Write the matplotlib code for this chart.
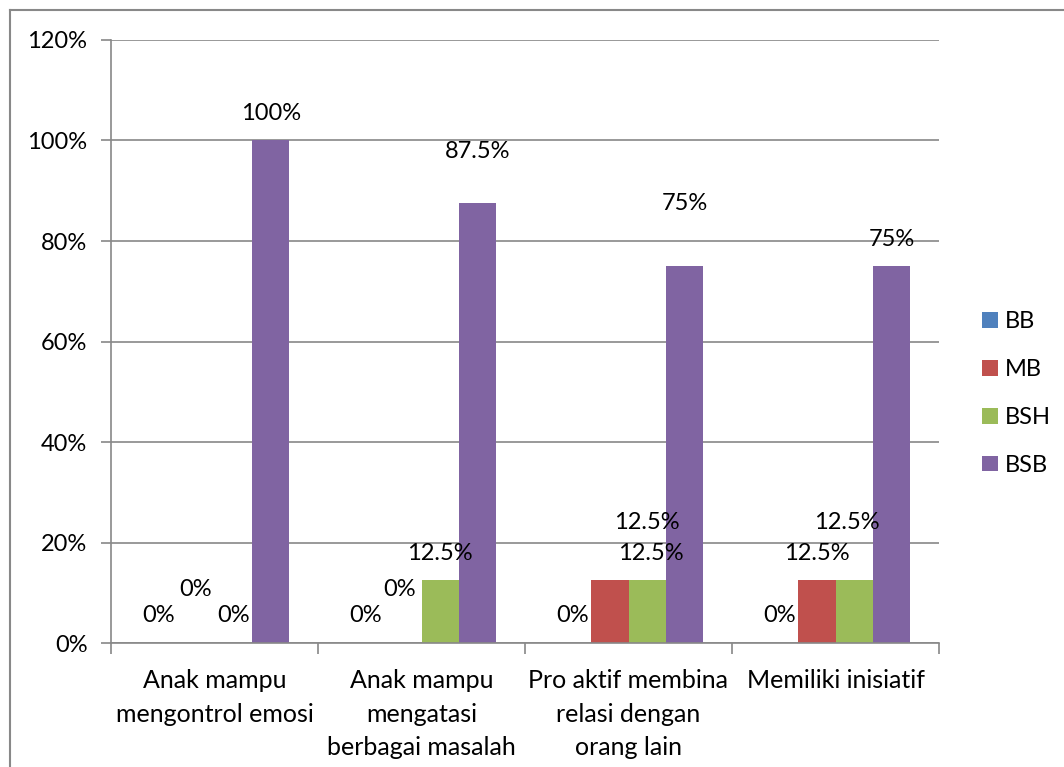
import numpy as np
import matplotlib
matplotlib.use("Agg")
import matplotlib.pyplot as plt
from matplotlib.lines import Line2D

categories = [
    "Anak mampu\nmengontrol emosi",
    "Anak mampu\nmengatasi\nberbagai masalah",
    "Pro aktif membina\nrelasi dengan\norang lain",
    "Memiliki inisiatif",
]
series = ["BB", "MB", "BSH", "BSB"]
bb = [0, 0, 0, 0]
mb = [0, 0, 12.5, 12.5]
bsh = [0, 12.5, 12.5, 12.5]
bsb = [100, 87.5, 75, 75]
yticks = [0, 20, 40, 60, 80, 100, 120]

colors = ["#4F81BD", "#C0504D", "#9BBB59", "#8064A2"]
grid_col = "#888888"

# hand-placed data labels: (category, series) -> extra shift in pixels
label_shift = {
    (0, 1): (0, 26),
    (1, 1): (-3, 27),
    (1, 3): (0, 25),
    (2, 1): (37, 31),
    (2, 2): (4, 0),
    (2, 3): (0, 36),
    (3, 2): (-7, 31),
}

plt.rcParams["font.family"] = ["Lato", "DejaVu Sans"]
FS = 17
FS_CAT = 18

fig = plt.figure(figsize=(10.64, 7.67), dpi=100)
ax = fig.add_axes([111 / 1064, 1 - 643 / 767, (939 - 111) / 1064, (643 - 40) / 767])

values = [bb, mb, bsh, bsb]
n_cat = len(categories)
width = 0.181
x = np.arange(n_cat)
for s, (name, vals, c) in enumerate(zip(series, values, colors)):
    pos = x + (s - 1.5) * width
    ax.bar(pos, vals, width, color=c, label=name, zorder=2, linewidth=0)
    for i, v in enumerate(vals):
        dx, dy = label_shift.get((i, s), (0, 0))
        ax.annotate(f"{v:g}%", (pos[i], v), xytext=(dx, 27 + dy),
                    textcoords="offset pixels", ha="center", va="center",
                    fontsize=FS, color="black", zorder=4)

ax.set_xlim(-0.5, n_cat - 0.5)
ax.set_ylim(0, 120)
ax.set_yticks(yticks)
ax.set_yticklabels([f"{t}%" for t in yticks])
ax.set_xticks(np.arange(n_cat + 1) - 0.5)
ax.set_xticklabels([])
ax.set_xticks(x, minor=True)
ax.set_xticklabels(categories, minor=True, fontsize=FS_CAT, linespacing=1.55)
ax.tick_params(axis="x", which="minor", length=0, pad=19)
ax.tick_params(axis="x", which="major", length=8, color=grid_col, width=1.2)
ax.tick_params(axis="y", length=7, color=grid_col, width=1.2, pad=10,
               labelsize=FS)
ax.yaxis.grid(True, color=grid_col, linewidth=1.2, zorder=1)
ax.set_axisbelow(True)
for side in ("top", "right"):
    ax.spines[side].set_visible(False)
for side in ("left", "bottom"):
    ax.spines[side].set_color(grid_col)
    ax.spines[side].set_linewidth(1.2)

fig.legend(loc="center left", bbox_to_anchor=(0.912, 0.487), frameon=False,
           fontsize=FS, handlelength=0.65, handleheight=0.65,
           handletextpad=0.3, labelspacing=1.14, borderpad=0)

# outer chart frame
fig.add_artist(Line2D([10 / 1064, 10 / 1064], [0, 1 - 10 / 767],
                      transform=fig.transFigure, color=grid_col, lw=1.5))
fig.add_artist(Line2D([10 / 1064, 1], [1 - 10 / 767, 1 - 10 / 767],
                      transform=fig.transFigure, color=grid_col, lw=1.5))

fig.savefig("out.png", dpi=100)
